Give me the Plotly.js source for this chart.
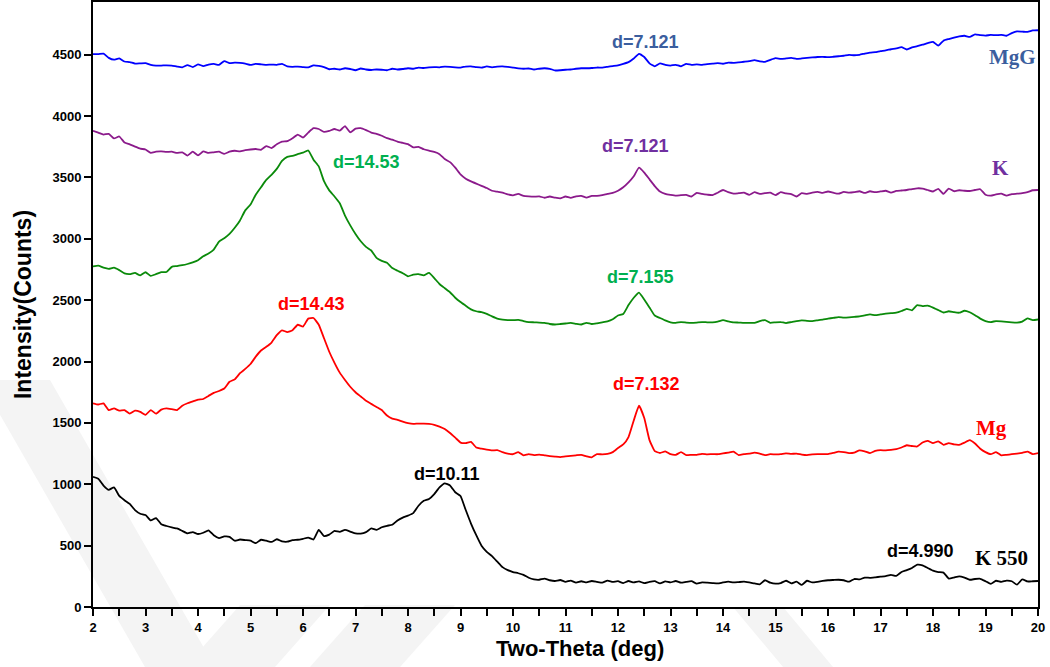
<!DOCTYPE html>
<html>
<head>
<meta charset="utf-8">
<script src="https://cdn.plot.ly/plotly-3.0.1.min.js"></script>
<style>
  html, body { margin: 0; padding: 0; background: #fff; }
  #chart { width: 1050px; height: 667px; }
</style>
</head>
<body>
<div id="chart"></div>
<script>
// Scan positions (2θ, degrees), 0.1° step
const twoTheta = [
  2.0,2.1,2.2,2.3,2.4,2.5,2.6,2.7,2.8,2.9,3.0,3.1,3.2,3.3,3.4,3.5,3.6,3.7,3.8,3.9,
  4.0,4.1,4.2,4.3,4.4,4.5,4.6,4.7,4.8,4.9,5.0,5.1,5.2,5.3,5.4,5.5,5.6,5.7,5.8,5.9,
  6.0,6.1,6.2,6.3,6.4,6.5,6.6,6.7,6.8,6.9,7.0,7.1,7.2,7.3,7.4,7.5,7.6,7.7,7.8,7.9,
  8.0,8.1,8.2,8.3,8.4,8.5,8.6,8.7,8.8,8.9,9.0,9.1,9.2,9.3,9.4,9.5,9.6,9.7,9.8,9.9,
  10.0,10.1,10.2,10.3,10.4,10.5,10.6,10.7,10.8,10.9,11.0,11.1,11.2,11.3,11.4,11.5,11.6,11.7,11.8,11.9,
  12.0,12.1,12.2,12.3,12.4,12.5,12.6,12.7,12.8,12.9,13.0,13.1,13.2,13.3,13.4,13.5,13.6,13.7,13.8,13.9,
  14.0,14.1,14.2,14.3,14.4,14.5,14.6,14.7,14.8,14.9,15.0,15.1,15.2,15.3,15.4,15.5,15.6,15.7,15.8,15.9,
  16.0,16.1,16.2,16.3,16.4,16.5,16.6,16.7,16.8,16.9,17.0,17.1,17.2,17.3,17.4,17.5,17.6,17.7,17.8,17.9,
  18.0,18.1,18.2,18.3,18.4,18.5,18.6,18.7,18.8,18.9,19.0,19.1,19.2,19.3,19.4,19.5,19.6,19.7,19.8,19.9,
  20.0
];

// K 550 (heated at 550 °C)
const countsK550 = [
  1060,1045,990,955,975,905,870,840,790,760,750,705,725,675,660,648,640,620,600,610,
  595,605,625,585,562,575,572,540,550,545,540,520,548,540,530,552,535,532,545,548,
  556,565,550,628,578,590,620,612,628,615,600,598,610,640,628,650,662,670,705,728,
  745,765,825,865,880,920,975,1008,990,935,905,790,680,585,500,450,415,370,325,300,
  285,275,262,238,225,222,232,218,212,220,205,215,198,210,200,212,205,198,215,205,
  210,195,212,200,208,195,205,210,192,208,200,212,198,205,210,190,200,198,195,192,
  200,206,200,203,206,200,192,185,218,198,190,195,214,193,206,180,214,200,205,212,
  218,220,222,218,206,228,225,240,238,242,247,252,262,253,285,300,318,345,340,318,
  296,285,280,232,240,250,240,222,228,230,210,188,214,205,215,210,182,225,208,210,
  212
];

// Mg-saturated
const countsMg = [
  1660,1650,1660,1605,1618,1600,1605,1575,1600,1590,1565,1605,1575,1608,1618,1612,1605,1640,1660,1675,
  1690,1695,1720,1745,1760,1780,1835,1855,1905,1940,1980,2040,2090,2120,2155,2215,2255,2240,2255,2300,
  2285,2350,2355,2300,2190,2080,1990,1910,1850,1795,1750,1715,1680,1655,1630,1605,1560,1535,1525,1510,
  1498,1492,1495,1494,1492,1485,1470,1450,1418,1380,1340,1335,1345,1300,1290,1282,1276,1278,1262,1250,
  1245,1262,1236,1246,1238,1242,1236,1230,1226,1222,1228,1232,1236,1240,1228,1220,1246,1244,1248,1262,
  1295,1325,1385,1520,1640,1540,1360,1270,1255,1268,1245,1240,1262,1238,1240,1240,1248,1244,1246,1245,
  1252,1258,1266,1238,1246,1250,1258,1250,1238,1245,1244,1246,1252,1248,1250,1242,1238,1244,1246,1245,
  1246,1255,1266,1262,1254,1258,1276,1268,1254,1272,1278,1276,1280,1286,1300,1318,1312,1308,1340,1354,
  1335,1350,1322,1336,1325,1322,1340,1360,1332,1290,1262,1245,1262,1236,1240,1245,1250,1256,1266,1246,
  1254
];

// Mg-saturated, glycerol solvated
const countsMgGly = [
  2775,2782,2765,2756,2765,2745,2718,2712,2722,2702,2728,2698,2712,2728,2730,2772,2778,2785,2795,2808,
  2825,2858,2880,2912,2978,3005,3040,3090,3150,3232,3280,3360,3420,3480,3522,3570,3635,3668,3676,3690,
  3702,3720,3645,3590,3470,3395,3345,3290,3190,3110,3040,2980,2935,2905,2845,2820,2805,2762,2740,2720,
  2695,2708,2712,2702,2722,2680,2632,2598,2565,2520,2485,2455,2425,2410,2402,2388,2368,2350,2342,2338,
  2337,2340,2330,2322,2320,2318,2315,2306,2302,2306,2310,2315,2308,2302,2316,2306,2312,2320,2328,2345,
  2375,2388,2460,2520,2562,2505,2440,2375,2355,2335,2320,2315,2322,2318,2315,2318,2322,2320,2320,2326,
  2337,2328,2320,2318,2315,2316,2315,2330,2338,2316,2320,2322,2314,2322,2330,2336,2332,2330,2336,2342,
  2350,2356,2362,2358,2360,2364,2368,2376,2384,2378,2384,2390,2394,2398,2412,2430,2418,2460,2452,2456,
  2440,2420,2400,2410,2402,2398,2414,2402,2378,2350,2330,2322,2330,2328,2324,2320,2318,2326,2352,2338,
  2343
];

// K-saturated
const countsK = [
  3880,3866,3850,3856,3818,3834,3785,3770,3752,3735,3728,3700,3710,3712,3708,3710,3700,3705,3678,3710,
  3680,3712,3700,3705,3710,3692,3710,3718,3712,3722,3728,3732,3726,3756,3740,3770,3792,3796,3820,3850,
  3826,3866,3902,3895,3872,3880,3895,3882,3918,3868,3898,3902,3886,3866,3856,3840,3820,3808,3792,3782,
  3772,3745,3750,3730,3718,3708,3690,3650,3625,3580,3525,3490,3468,3450,3432,3414,3392,3384,3376,3362,
  3355,3366,3350,3346,3344,3346,3335,3345,3336,3330,3345,3334,3346,3350,3336,3350,3350,3356,3366,3374,
  3392,3420,3460,3510,3580,3540,3485,3430,3385,3366,3358,3352,3356,3358,3345,3375,3366,3360,3356,3376,
  3398,3380,3368,3372,3376,3358,3380,3366,3372,3376,3356,3380,3370,3364,3345,3372,3366,3376,3382,3374,
  3386,3376,3368,3382,3376,3380,3388,3374,3388,3380,3386,3392,3376,3390,3394,3398,3406,3412,3410,3398,
  3386,3408,3366,3410,3388,3396,3392,3390,3398,3404,3360,3352,3362,3368,3352,3364,3368,3372,3380,3396,
  3398
];

// MgG trace (top)
const countsMgG = [
  4505,4505,4510,4475,4460,4470,4445,4440,4428,4430,4432,4418,4412,4412,4414,4412,4404,4398,4416,4400,
  4422,4408,4420,4425,4418,4448,4432,4436,4434,4428,4418,4426,4422,4418,4420,4418,4426,4405,4402,4404,
  4400,4398,4414,4410,4400,4382,4386,4380,4390,4384,4374,4388,4380,4376,4380,4378,4374,4386,4380,4384,
  4390,4386,4396,4392,4398,4400,4398,4404,4402,4398,4396,4404,4406,4400,4396,4405,4398,4404,4406,4402,
  4396,4390,4386,4388,4380,4386,4390,4386,4372,4374,4378,4380,4386,4390,4390,4392,4396,4396,4402,4408,
  4414,4426,4440,4470,4508,4482,4430,4406,4430,4418,4412,4418,4406,4426,4418,4421,4418,4424,4428,4432,
  4427,4436,4434,4438,4443,4448,4456,4446,4442,4458,4472,4466,4470,4474,4466,4470,4474,4478,4482,4483,
  4480,4484,4488,4492,4499,4496,4500,4510,4518,4522,4530,4536,4545,4552,4562,4543,4560,4570,4582,4595,
  4605,4574,4615,4628,4640,4650,4655,4645,4666,4660,4656,4662,4660,4662,4655,4676,4690,4688,4686,4698,
  4700
];

// Sample labels placed at the right end of each trace
const sampleLabels = [
  {text: 'MgG',   x: 19.52, y: 4484, color: '#3B5E9E'},
  {text: 'K',     x: 19.28, y: 3579, color: '#7030A0'},
  {text: 'Mg',    x: 19.12, y: 1459, color: '#FF0000'},
  {text: 'K 550', x: 19.31, y: 400,  color: '#000000'}
];

// Basal spacing labels (Å)
const peakLabels = [
  {text: 'd=7.121', x: 12.53, y: 4606, color: '#3B5E9E'},
  {text: 'd=7.121', x: 12.34, y: 3758, color: '#7030A0'},
  {text: 'd=14.53', x: 7.20,  y: 3628, color: '#00B050'},
  {text: 'd=7.155', x: 12.42, y: 2690, color: '#00B050'},
  {text: 'd=14.43', x: 6.17,  y: 2470, color: '#FF0000'},
  {text: 'd=7.132', x: 12.55, y: 1818, color: '#FF0000'},
  {text: 'd=10.11', x: 8.74,  y: 1084, color: '#000000'},
  {text: 'd=4.990', x: 17.77, y: 457,  color: '#000000'}
];

const yTicks = [0, 500, 1000, 1500, 2000, 2500, 3000, 3500, 4000, 4500];
const xTicks = [2,3,4,5,6,7,8,9,10,11,12,13,14,15,16,17,18,19,20];

const traces = [
  {y: countsK550, color: '#000000', name: 'K 550'},
  {y: countsMg,   color: '#FF0000', name: 'Mg'},
  {y: countsMgGly,color: '#0A8A0A', name: 'Mg-glycerol'},
  {y: countsK,    color: '#8B1A8B', name: 'K'},
  {y: countsMgG,  color: '#0000FF', name: 'MgG'}
].map(s => ({
  type: 'scatter', mode: 'lines', x: twoTheta, y: s.y, name: s.name,
  line: {color: s.color, width: 1.8, shape: 'spline', smoothing: 0.4},
  hoverinfo: 'x+y'
}));

const annotations = [];
sampleLabels.forEach(l => annotations.push({
  x: l.x, y: l.y, xref: 'x', yref: 'y', text: '<b>' + l.text + '</b>', showarrow: false,
  font: {family: 'Liberation Serif, Times New Roman, serif', size: 21, color: l.color}
}));
peakLabels.forEach(l => annotations.push({
  x: l.x, y: l.y, xref: 'x', yref: 'y', text: '<b>' + l.text + '</b>', showarrow: false,
  font: {family: 'Liberation Sans, Arial, sans-serif', size: 18, color: l.color}
}));
// x-axis title, set slightly right of the plot centre
annotations.push({
  x: 0.515, y: -0.068, xref: 'paper', yref: 'paper', yanchor: 'middle',
  text: '<b>Two-Theta (deg)</b>', showarrow: false,
  font: {family: 'Liberation Sans, Arial, sans-serif', size: 22, color: '#000'}
});

// Faint grey diagonal background stripes (page watermark)
const PX0 = 93, PW = 945, PY0 = 607, PH = 605;
const toPaper = pts => 'M ' + pts.map(p => ((p[0] - PX0) / PW).toFixed(4) + ',' + ((PY0 - p[1]) / PH).toFixed(4)).join(' L ') + ' Z';
const stripes = [
  [[-20, 380], [50, 380], [215, 667], [145, 667]],
  [[185, 667], [275, 667], [330, 605], [240, 605]],
  [[310, 667], [400, 667], [455, 605], [365, 605]],
  [[733, 607], [783, 607], [833, 667], [783, 667]]
].map(pts => ({
  type: 'path', xref: 'paper', yref: 'paper', path: toPaper(pts),
  fillcolor: '#f4f4f4', line: {width: 0}, layer: 'below'
}));

const layout = {
  width: 1050, height: 667,
  margin: {l: 93, r: 12, t: 2, b: 60},
  paper_bgcolor: '#ffffff', plot_bgcolor: 'rgba(0,0,0,0)',
  showlegend: false,
  font: {family: 'Liberation Sans, Arial, sans-serif', color: '#000'},
  xaxis: {
    range: [2, 20], tickvals: xTicks, ticktext: xTicks.map(String),
    ticks: 'outside', ticklen: 7, tickwidth: 2, tickcolor: '#000',
    minor: {dtick: 0.5, tick0: 2, ticks: 'outside', ticklen: 7, tickwidth: 2, tickcolor: '#000'},
    showline: true, linewidth: 2, linecolor: '#000', mirror: true,
    showgrid: false, zeroline: false,
    tickfont: {size: 13, family: 'Liberation Sans, Arial, sans-serif', weight: 'bold'}
  },
  yaxis: {
    range: [0, 4930], tickvals: yTicks, ticktext: yTicks.map(String),
    ticks: 'outside', ticklen: 7, tickwidth: 2, tickcolor: '#000',
    showline: true, linewidth: 2, linecolor: '#000', mirror: true,
    showgrid: false, zeroline: false,
    tickfont: {size: 13, family: 'Liberation Sans, Arial, sans-serif', weight: 'bold'},
    title: {text: '<b>Intensity(Counts)</b>', font: {size: 23}, standoff: 14}
  },
  shapes: stripes,
  annotations: annotations
};

Plotly.newPlot('chart', traces, layout, {displayModeBar: false, staticPlot: true});
</script>
</body>
</html>
